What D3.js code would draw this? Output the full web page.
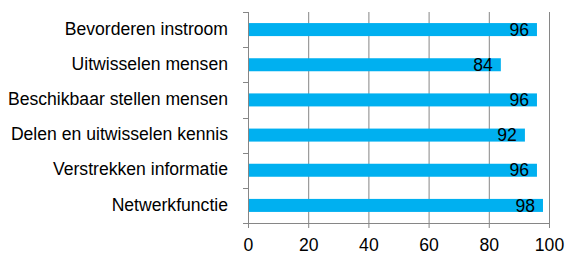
<!DOCTYPE html>
<html><head><meta charset="utf-8">
<script src="https://cdn.jsdelivr.net/npm/d3@7"></script>
<style>body{margin:0;background:#fff}svg{display:block}text{font-family:"Liberation Sans",Arial,sans-serif;fill:#000}</style>
</head><body>
<svg id="c" width="565" height="260"></svg>
<script>
const categories = ["Bevorderen instroom","Uitwisselen mensen","Beschikbaar stellen mensen","Delen en uitwisselen kennis","Verstrekken informatie","Netwerkfunctie"];
const values = [96,84,96,92,96,98];
const xTicks = [0,20,40,60,80,100];

(function(){
const svg = d3.select("#c");
const mL = 248, mR = 549, mT = 12, mB = 223;
const fs = 17.6;
const x = d3.scaleLinear().domain([0,100]).range([mL,mR]);
const y = d3.scaleBand().domain(categories).range([mT,mB]).padding(0);
const grey = "#868686";

svg.append("g").selectAll("line").data(xTicks.slice(1)).join("line")
  .attr("x1",d=>x(d)+0.5).attr("x2",d=>x(d)+0.5).attr("y1",mT).attr("y2",mB)
  .attr("stroke",grey).attr("stroke-width",1);

const bh = y.bandwidth()*0.37;
svg.append("g").selectAll("rect").data(values).join("rect")
  .attr("x",x(0)).attr("y",(d,i)=>y(categories[i])+y.bandwidth()/2-bh/2)
  .attr("width",d=>x(d)-x(0)).attr("height",bh).attr("fill","#00b0f0");

svg.append("g").selectAll("text").data(values).join("text")
  .attr("x",d=>x(d)-8).attr("y",(d,i)=>y(categories[i])+y.bandwidth()/2+1.5)
  .attr("text-anchor","end").attr("dominant-baseline","middle")
  .attr("font-size",fs).text(d=>d);

const xa = svg.append("g").attr("transform",`translate(0,${mB})`)
  .call(d3.axisBottom(x).tickValues(xTicks).tickSize(5).tickPadding(11));
xa.select(".domain").attr("stroke",grey).attr("d",`M${mL},0.5H${mR}`);
xa.selectAll(".tick line").attr("stroke",grey);
xa.selectAll(".tick text").attr("font-size",fs).attr("font-family","Liberation Sans, Arial, sans-serif").attr("fill","#000");

const ya = svg.append("g").attr("transform",`translate(${mL},0)`);
ya.append("line").attr("x1",0.5).attr("x2",0.5).attr("y1",mT).attr("y2",mB+5).attr("stroke",grey);
const bounds = categories.map(c=>y(c)).concat([mB]);
ya.selectAll("line.t").data(bounds).join("line").attr("class","t")
  .attr("x1",-5).attr("x2",0).attr("y1",d=>Math.round(d)+0.5).attr("y2",d=>Math.round(d)+0.5).attr("stroke",grey);
ya.selectAll("text").data(categories).join("text")
  .attr("x",-20).attr("y",d=>y(d)+y.bandwidth()/2+0.5)
  .attr("text-anchor","end").attr("dominant-baseline","middle")
  .attr("font-size",fs).text(d=>d);
})();
</script>
</body></html>
